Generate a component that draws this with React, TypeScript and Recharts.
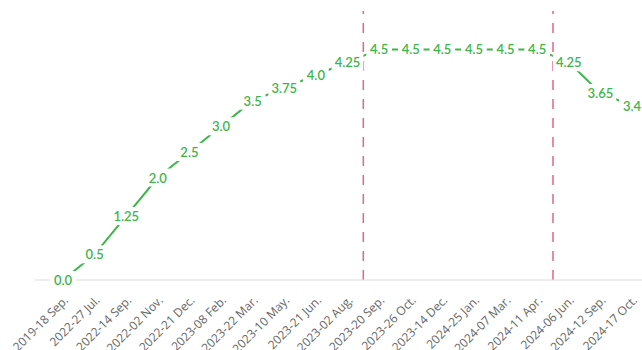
import { LineChart, Line, XAxis, YAxis, ReferenceLine } from "recharts";

const dates = [
  "2019-18 Sep.",
  "2022-27 Jul.",
  "2022-14 Sep.",
  "2022-02 Nov.",
  "2022-21 Dec.",
  "2023-08 Feb.",
  "2023-22 Mar.",
  "2023-10 May.",
  "2023-21 Jun.",
  "2023-02 Aug.",
  "2023-20 Sep.",
  "2023-26 Oct.",
  "2023-14 Dec.",
  "2024-25 Jan.",
  "2024-07 Mar.",
  "2024-11 Apr.",
  "2024-06 Jun.",
  "2024-12 Sep.",
  "2024-17 Oct.",
];

const rates = [
  0.0, 0.5, 1.25, 2.0, 2.5, 3.0, 3.5, 3.75, 4.0, 4.25, 4.5, 4.5, 4.5, 4.5, 4.5,
  4.5, 4.25, 3.65, 3.4,
];

// markers sit halfway between two dates
const markers = [9.5, 15.5];

const GREEN = "#3db54a";
const PINK = "#e0668a";
const FONT = "Lato, 'Open Sans', sans-serif";

const fmt = (v: number) => (Number.isInteger(v) ? v.toFixed(1) : String(v));

const data = rates.map((v, i) => ({ i, v }));

function PointLabel(props: any) {
  const { x, y, value } = props;
  if (x == null || y == null) return null;
  const text = fmt(Number(value));
  const w = text.length * 6.2 + 7;
  return (
    <g>
      <rect x={x - w / 2} y={y - 9} width={w} height={18} fill="#fff" />
      <text
        x={x}
        y={y}
        textAnchor="middle"
        dominantBaseline="central"
        fill={GREEN}
        fontSize={13}
        fontWeight={600}
        fontFamily={FONT}
      >
        {text}
      </text>
    </g>
  );
}

function DateTick(props: any) {
  const { x, y, payload } = props;
  const label = dates[payload.value] ?? "";
  const tx = x + 6;
  const ty = y + 13;
  return (
    <text
      x={tx}
      y={ty}
      textAnchor="end"
      fill="#666"
      fontSize={12}
      fontFamily="'Open Sans', sans-serif"
      transform={`rotate(-45, ${tx}, ${ty})`}
    >
      {label}
    </text>
  );
}

export default function App() {
  return (
    <div style={{ position: "absolute", left: 0, top: 0, width: 642, height: 350 }}>
      <LineChart
        width={642}
        height={350}
        data={data}
        margin={{ top: 11, right: 0, left: 35, bottom: 10 }}
      >
        <XAxis
          dataKey="i"
          type="number"
          domain={[-0.886, 18.316]}
          allowDataOverflow
          ticks={dates.map((_, i) => i)}
          interval={0}
          tick={<DateTick />}
          tickLine={false}
          axisLine={{ stroke: "#dddddd" }}
          height={60}
        />
        <YAxis hide domain={[0, 5.25]} />
        {markers.map((m) => (
          <ReferenceLine
            key={m}
            x={m}
            stroke={PINK}
            strokeWidth={1.5}
            strokeDasharray="10 9"
          />
        ))}
        <Line
          dataKey="v"
          stroke={GREEN}
          strokeWidth={2}
          dot={false}
          isAnimationActive={false}
          label={<PointLabel />}
        />
      </LineChart>
    </div>
  );
}
